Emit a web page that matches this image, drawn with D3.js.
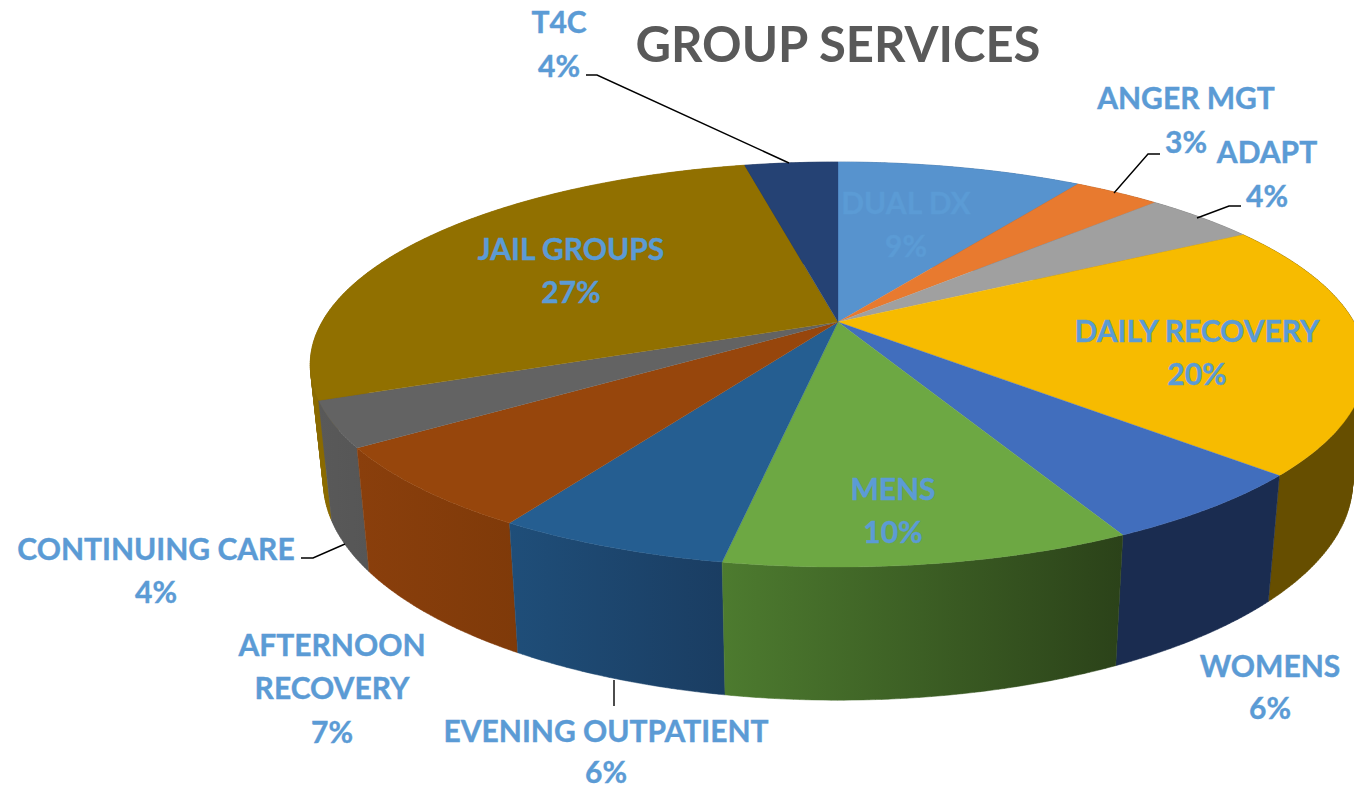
<!DOCTYPE html>
<html>
<head>
<meta charset="utf-8">
<script src="https://cdn.jsdelivr.net/npm/d3@7"></script>
<style>
  html, body { margin: 0; padding: 0; background: #fff; overflow: hidden; }
  text { font-family: Lato, "Open Sans", sans-serif; font-weight: 700; }
</style>
</head>
<body>
<div id="chart"></div>
<script>
// data
var categories = ["DUAL DX", "ANGER MGT", "ADAPT", "DAILY RECOVERY", "WOMENS", "MENS",
  "EVENING OUTPATIENT", "AFTERNOON RECOVERY", "CONTINUING CARE", "JAIL GROUPS", "T4C"];
// slice sizes as drawn (the printed labels are rounded differently in the original)
var shares = [9.2, 3.25, 4.25, 20.2, 5.7, 10.25, 5.9, 6.55, 3.6, 27.6, 3.5];
var percentLabels = ["9%", "3%", "4%", "20%", "6%", "10%", "6%", "7%", "4%", "27%", "4%"];

// colours
var topColors = ["#5793ce", "#e87a2f", "#a0a0a0", "#f7bb00", "#416ebd", "#6da843",
  "#255e91", "#97460c", "#636363", "#917000", "#254274"];
var wallLeft = ["#3a6a99", "#a8581f", "#707070", "#664e00", "#1a2c50", "#4d7b2f",
  "#1f4e79", "#8a3f0c", "#595959", "#8a6a00", "#1a3055"];
var wallRight = ["#3a6a99", "#a8581f", "#707070", "#664e00", "#1a2c50", "#2b4219",
  "#1a3d62", "#7f3a09", "#565656", "#8a6a00", "#1a3055"];
var labelColor = "#5b9bd5";

// label placement: x centre, baselines of each line, optional leader
var labelLayout = [
  { x: 906, lines: ["DUAL DX"], ys: [214, 257] },
  { x: 1186, lines: ["ANGER MGT"], ys: [109, 153], leader: [[1160, 154], [1148, 154], [1114, 193]] },
  { x: 1267, lines: ["ADAPT"], ys: [163, 207], leader: [[1241, 206], [1229, 206], [1197, 218]] },
  { x: 1197, lines: ["DAILY RECOVERY"], ys: [342, 385] },
  { x: 1270, lines: ["WOMENS"], ys: [677, 719] },
  { x: 893, lines: ["MENS"], ys: [500, 543] },
  { x: 606, lines: ["EVENING OUTPATIENT"], ys: [742, 783], leader: [[614, 706], [614, 680]] },
  { x: 332, lines: ["AFTERNOON", "RECOVERY"], ys: [656, 699, 743] },
  { x: 156, lines: ["CONTINUING CARE"], ys: [560, 603], leader: [[301, 558], [313, 558], [345, 544]] },
  { x: 571, lines: ["JAIL GROUPS"], ys: [260, 303] },
  { x: 559, lines: ["T4C"], ys: [33, 77], leader: [[586, 75], [597, 75], [789, 163]] }
];

var width = 1354, height = 789;

// perspective of the pie's top disc
var cx = 838, cy = 322, radX = 516, radY = 193.6, persp = 0.21;
// the bottom disc sits lower and looks a bit narrower
var botCy = 436, botScaleX = 0.975, botScaleY = 1.078;

function topPoint(a) {
  var w = 1 + persp * Math.cos(a);
  return [cx + radX * Math.sin(a) / w, cy - radY * Math.cos(a) / w];
}
function botPoint(a) {
  var p = topPoint(a);
  return [cx + (p[0] - cx) * botScaleX, botCy + (p[1] - cy) * botScaleY];
}
function arcAngles(a0, a1) {
  var n = Math.max(2, Math.ceil((a1 - a0) / 0.01));
  return d3.range(n + 1).map(function(i) { return a0 + (a1 - a0) * i / n; });
}

var svg = d3.select("#chart").append("svg")
  .attr("width", width)
  .attr("height", height)
  .style("display", "block");

var arcs = d3.pie().sort(null).value(function(d) { return d; })(shares);
var line = d3.line();
var defs = svg.append("defs");

// outer walls, back ones first
var wallOrder = d3.range(arcs.length).sort(function(a, b) {
  return Math.cos((arcs[b].startAngle + arcs[b].endAngle) / 2) - Math.cos((arcs[a].startAngle + arcs[a].endAngle) / 2);
});
var walls = svg.append("g");
wallOrder.forEach(function(i) {
  var d = arcs[i];
  var angles = arcAngles(d.startAngle, d.endAngle);
  // one quad per step, so the silhouette between the two discs gets filled too
  var path = "";
  var allX = [];
  for (var k = 0; k < angles.length - 1; k++) {
    var quad = [topPoint(angles[k]), topPoint(angles[k + 1]), botPoint(angles[k + 1]), botPoint(angles[k])];
    // same winding for every quad or the overlaps near the silhouette cancel out
    if (d3.polygonArea(quad) < 0) quad.reverse();
    path += line(quad) + "Z";
    allX.push(quad[0][0], quad[1][0], quad[2][0], quad[3][0]);
  }
  var xs = d3.extent(allX);
  var grad = defs.append("linearGradient")
    .attr("id", "wall" + i)
    .attr("gradientUnits", "userSpaceOnUse")
    .attr("x1", xs[0]).attr("x2", xs[1]).attr("y1", 0).attr("y2", 0);
  grad.append("stop").attr("offset", 0).attr("stop-color", wallLeft[i]);
  grad.append("stop").attr("offset", 1).attr("stop-color", wallRight[i]);
  walls.append("path")
    .attr("d", path)
    .attr("fill", "url(#wall" + i + ")")
    .attr("stroke", "url(#wall" + i + ")")
    .attr("stroke-width", 0.5);
});

// top face
svg.append("g").selectAll("path")
  .data(arcs)
  .enter().append("path")
  .attr("d", function(d) {
    return line([[cx, cy]].concat(arcAngles(d.startAngle, d.endAngle).map(topPoint))) + "Z";
  })
  .attr("fill", function(d, i) { return topColors[i]; })
  .attr("stroke", function(d, i) { return topColors[i]; })
  .attr("stroke-width", 0.3);

// leader lines
svg.append("g").selectAll("path")
  .data(labelLayout.filter(function(d) { return d.leader; }))
  .enter().append("path")
  .attr("d", function(d) { return line(d.leader); })
  .attr("fill", "none")
  .attr("stroke", "#000")
  .attr("stroke-width", 1.4);

// data labels
var labels = svg.append("g")
  .attr("fill", labelColor)
  .attr("stroke", labelColor)
  .attr("stroke-width", 0.4)
  .attr("text-anchor", "middle")
  .style("font-size", "30px");
labelLayout.forEach(function(l, i) {
  l.lines.concat([percentLabels[i]]).forEach(function(t, j) {
    labels.append("text")
      .attr("x", l.x)
      .attr("y", l.ys[j])
      .text(t);
  });
});

// title
svg.append("text")
  .attr("x", cx)
  .attr("y", 62)
  .attr("text-anchor", "middle")
  .attr("fill", "#595959")
  .style("font-size", "49px")
  .text("GROUP SERVICES");
</script>
</body>
</html>
